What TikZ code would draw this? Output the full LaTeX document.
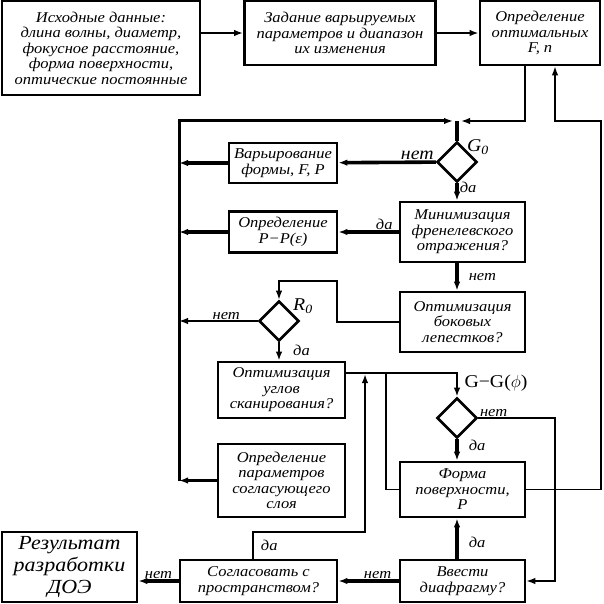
\documentclass[tikz,border=0pt]{standalone}
\usepackage{fontspec}
\setmainfont{Liberation Serif}[FakeStretch=1.1]
\usetikzlibrary{arrows.meta, shapes.geometric}

\tikzset{
  block/.style={draw, line width=2.6pt, align=center, inner sep=1pt,
    font=\itshape\fontsize{15}{15.5}\selectfont},
  cond/.style={draw, diamond, line width=2.6pt, minimum width=40pt,
    minimum height=40pt, inner sep=0pt},
  heavy/.style={line width=3.6pt},
  medium/.style={line width=2.4pt},
  light/.style={line width=1.6pt},
  lbl/.style={font=\itshape\fontsize{15}{15.5}\selectfont, inner sep=1pt}
}

\begin{document}
\begin{tikzpicture}[x=1pt, y=-1pt, >={Latex[length=9pt,width=6.5pt]}]
\useasboundingbox (0,0) rectangle (603,604);

% first row
  \node[block, minimum width=198pt, minimum height=94pt] (inp) at (101,48)
    {Исходные данные:\\длина волны, диаметр,\\фокусное расстояние,\\форма поверхности,\\оптические постоянные};
  \node[block, minimum width=191pt, minimum height=64pt] (zad) at (340,33)
    {Задание варьируемых\\параметров и диапазон\\их изменения};
  \node[block, minimum width=120pt, minimum height=64pt] (opt) at (540,33)
    {Определение\\оптимальных\\F, n};

% conditions
  \node[cond] (G0) at (457,162) {};
  \node[cond] (R0) at (279,321) {};
  \node[cond] (G1) at (457,418) {};
  \node[lbl, font=\itshape\fontsize{18}{18}\selectfont] (G0lbl) at (478,147) {G\textsubscript{0}};
  \node[lbl, font=\itshape\fontsize{18}{18}\selectfont] (R0lbl) at (303,306) {R\textsubscript{0}};
  \node[lbl, font=\fontsize{18}{18}\selectfont] (G1lbl) at (496,383) {G−G($\phi$)};

% blocks of the loop
  \node[block, minimum width=108pt, minimum height=40pt] (var) at (283,163)
    {Варьирование\\формы, F, P};
  \node[block, minimum width=125pt, minimum height=60pt] (minf) at (462.5,232)
    {Минимизация\\френелевского\\отражения?};
  \node[block, minimum width=108pt, minimum height=41pt] (detP) at (283,232)
    {Определение\\P−P(ε)};
  \node[block, minimum width=125pt, minimum height=60pt] (bok) at (462.5,322)
    {Оптимизация\\боковых\\лепестков?};
  \node[block, minimum width=127pt, minimum height=56pt] (ugl) at (281.5,390)
    {Оптимизация\\углов\\сканирования?};
  \node[block, minimum width=127pt, minimum height=73pt] (sogsl) at (281.5,480.5)
    {Определение\\параметров\\согласующего\\слоя};
  \node[block, minimum width=125pt, minimum height=55pt] (form) at (462.5,489.5)
    {Форма\\поверхности,\\P};

% last row
  \node[block, minimum width=125pt, minimum height=42pt] (vved) at (462.5,581)
    {Ввести\\диафрагму?};
  \node[block, minimum width=157pt, minimum height=42pt] (sogl) at (258.5,581)
    {Согласовать с\\пространством?};
  \node[block, minimum width=135pt, minimum height=70pt,
    font=\itshape\fontsize{20}{22}\selectfont] (res) at (69.5,567)
    {Результат\\разработки\\ДОЭ};

% turning points
  \coordinate (jn) at (457,121);
  \coordinate (bus) at (179,481);
  \coordinate (bend) at (337,281);
  \coordinate (fork) at (386,373);
  \coordinate (rdrop) at (555,418);
  \coordinate (rtop) at (601,121);
  \coordinate (rise) at (365,532);
  \coordinate (upend) at (365,374);

% the links
  \draw[medium,->] (inp.east |- zad) -- (zad);
  \draw[medium,->] (zad) -- (opt);
  \draw[light,->,shorten >=4pt] ([xshift=-15pt]opt.south) |- (jn);
  \draw[line width=3pt,->,shorten >=4pt] (bus) |- (jn);
  \draw[heavy] (jn) -- (G0.north);
  \draw[heavy,->] (G0) -- (var) node[lbl, above, pos=0.19, font=\itshape\fontsize{18}{18}\selectfont] {нет};
  \draw[heavy,->] (G0) -- (G0 |- minf.north) node[lbl, right, pos=0.25] {да};
  \draw[heavy,->] (var) -- (var -| bus);
  \draw[heavy,->] (minf) -- (detP) node[lbl, above, pos=0.24] {да};
  \draw[heavy,->] (detP) -- (detP -| bus);
  \draw[heavy,->] (minf.south -| G0) -- (bok.north -| G0) node[lbl, right, midway, xshift=9pt] {нет};
  \draw[light,->] (bok) -| (bend) -| (R0);
  \draw[light,->] (R0) -- (R0 -| bus) node[lbl, above, pos=0.4] {нет};
  \draw[medium,->] (R0) -- (R0 |- ugl.north) node[lbl, right, pos=0.45, xshift=12pt] {да};
  \draw[medium,->] ([yshift=17pt]ugl.east) -| (G1);
  \draw[light] (fork) |- (form);
  \draw[heavy,->] (G1) -- (G1 |- form.north) node[lbl, right, pos=0.3, xshift=9pt] {да};
  \draw[light,->] (G1) -- (rdrop) |- (vved);
  \path (G1.east) -- (rdrop) node[lbl, above, pos=0.2] {нет};
  \draw[light,->] (form) -| (rtop) -| ([xshift=15pt]opt.south);
  \draw[heavy,->] (sogsl) -- (sogsl -| bus);
  \draw[heavy,->] (vved.north -| G1) -- (form.south -| G1) node[lbl, right, pos=0.4, xshift=9pt] {да};
  \draw[heavy,->] (vved) -- (sogl) node[lbl, above, pos=0.35] {нет};
  \draw[heavy,->] (sogl.west) -- (sogl.west -| res.east) node[lbl, above, midway] {нет};
  \draw[medium,->] ([xshift=-5.5pt]sogl.north) |- (rise) -- (upend);
  \path ([xshift=-5.5pt]sogl.north) -- (rise -| sogl.north) node[lbl, right, midway, xshift=4pt] {да};
\end{tikzpicture}
\end{document}
